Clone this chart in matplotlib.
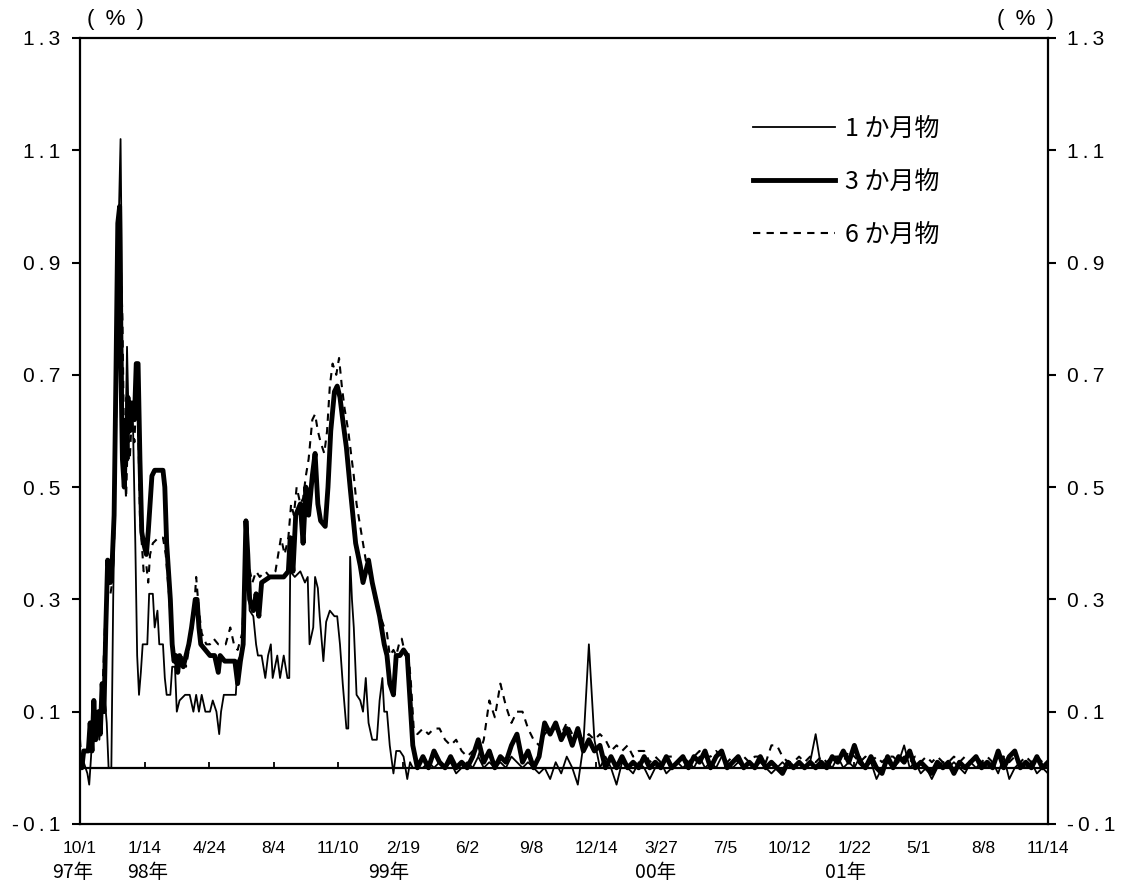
import numpy as np
import matplotlib
matplotlib.use("Agg")
import matplotlib.pyplot as plt

# ---------------- data (x = business-day index from 97/10/1) ----------------
tick_labels = ["10/1", "1/14", "4/24", "8/4", "11/10", "2/19", "6/2", "9/8",
               "12/14", "3/27", "7/5", "10/12", "1/22", "5/1", "8/8", "11/14"]
tick_step = 70
year_labels = ["97年", "98年", "99年", "00年", "01年"]
year_pos = [-8, 73, 335, 624, 830]
series_names = ["1 か月物", "3 か月物", "6 か月物"]

# 1-month, early period
m1_days = [0, 4, 8, 10, 12, 14, 16, 18, 21, 23, 25, 27, 29, 31, 34, 36, 39, 41, 44, 47,
           49, 51, 53, 55, 57, 60, 62, 64, 66, 68, 73, 75, 79, 81, 84, 86, 90, 92, 94, 98,
           100, 103, 105, 108, 114, 119, 123, 126, 129, 132, 136, 141, 144, 148, 151, 153, 156, 163, 169, 171,
           174, 177, 180, 182, 184, 188, 191, 193, 197, 201, 204, 207, 209, 214, 217, 221, 225, 227, 228, 233,
           239, 244, 247, 249, 253, 255, 258, 260, 264, 267, 271, 276, 279, 282, 285, 289, 291, 293, 295, 297,
           300, 304, 307, 310, 313, 317, 322, 325, 328, 330, 333, 336, 340, 343, 347, 351, 355, 358, 361]
m1_vals = [0.0, 0.01, -0.01, -0.03, 0.02, 0.10, 0.05, 0.09, 0.05, 0.10, 0.15, 0.12, 0.08, 0.0, 0.0, 0.30, 0.60, 0.90, 1.12, 0.60,
           0.55, 0.75, 0.60, 0.62, 0.65, 0.40, 0.20, 0.13, 0.17, 0.22, 0.22, 0.31, 0.31, 0.25, 0.28, 0.22, 0.22, 0.16, 0.13, 0.13,
           0.18, 0.18, 0.10, 0.12, 0.13, 0.13, 0.10, 0.13, 0.10, 0.13, 0.10, 0.10, 0.12, 0.10, 0.06, 0.10, 0.13, 0.13, 0.13, 0.19,
           0.20, 0.22, 0.42, 0.35, 0.28, 0.27, 0.22, 0.20, 0.20, 0.16, 0.20, 0.22, 0.16, 0.20, 0.16, 0.20, 0.16, 0.16, 0.35, 0.34,
           0.35, 0.33, 0.34, 0.22, 0.25, 0.34, 0.32, 0.27, 0.19, 0.26, 0.28, 0.27, 0.27, 0.22, 0.15, 0.07, 0.07, 0.376, 0.30, 0.25,
           0.13, 0.12, 0.10, 0.16, 0.08, 0.05, 0.05, 0.12, 0.16, 0.10, 0.10, 0.04, -0.01, 0.03, 0.03, 0.02, -0.02, 0.01, 0.0]

# 3-month, early period
m3_days = [0, 2, 4, 9, 11, 13, 15, 17, 20, 22, 24, 26, 28, 30, 33, 35, 37, 39, 41, 43,
           44, 46, 48, 50, 51, 52, 54, 56, 59, 61, 63, 65, 67, 69, 72, 74, 76, 78, 81, 90,
           92, 94, 98, 100, 102, 104, 106, 108, 112, 115, 118, 121, 125, 127, 129, 131, 136, 141, 146, 150,
           152, 157, 163, 168, 171, 174, 177, 180, 182, 184, 188, 191, 194, 197, 206, 217, 221, 226, 228, 231,
           234, 239, 242, 245, 248, 252, 255, 258, 261, 266, 269, 272, 276, 279, 282, 285, 289, 293, 296, 299,
           304, 307, 310, 313, 317, 321, 325, 330, 333, 336, 340, 343, 347, 351, 355, 358, 361]
m3_vals = [0.02, 0.0, 0.03, 0.03, 0.08, 0.03, 0.12, 0.05, 0.10, 0.06, 0.15, 0.10, 0.25, 0.37, 0.33, 0.37, 0.45, 0.70, 0.97, 1.00,
           0.75, 0.55, 0.50, 0.62, 0.55, 0.66, 0.60, 0.65, 0.62, 0.72, 0.72, 0.55, 0.42, 0.40, 0.38, 0.42, 0.47, 0.52, 0.53, 0.53,
           0.50, 0.40, 0.30, 0.22, 0.19, 0.20, 0.17, 0.20, 0.18, 0.20, 0.22, 0.25, 0.30, 0.30, 0.25, 0.22, 0.21, 0.20, 0.20, 0.17,
           0.20, 0.19, 0.19, 0.19, 0.15, 0.19, 0.22, 0.44, 0.38, 0.30, 0.28, 0.31, 0.27, 0.33, 0.34, 0.34, 0.34, 0.35, 0.41, 0.35,
           0.45, 0.47, 0.40, 0.50, 0.45, 0.52, 0.56, 0.47, 0.44, 0.43, 0.50, 0.60, 0.67, 0.68, 0.66, 0.62, 0.57, 0.50, 0.45, 0.40,
           0.36, 0.33, 0.35, 0.37, 0.33, 0.30, 0.27, 0.22, 0.20, 0.15, 0.13, 0.20, 0.20, 0.21, 0.20, 0.12, 0.04]

# 6-month, early period
m6_days = [0, 2, 5, 11, 14, 17, 21, 24, 27, 30, 33, 35, 37, 39, 41, 43, 46, 48, 50, 52,
           54, 56, 59, 61, 63, 65, 67, 69, 72, 74, 76, 79, 85, 90, 93, 97, 100, 103, 106, 111,
           115, 119, 123, 126, 129, 132, 137, 141, 145, 150, 154, 158, 163, 167, 171, 176, 180, 183, 187, 191,
           195, 201, 206, 212, 215, 218, 222, 226, 229, 232, 235, 239, 242, 245, 248, 252, 255, 258, 261, 265,
           268, 271, 274, 278, 281, 284, 287, 291, 294, 297, 300, 304, 307, 310, 313, 317, 320, 323, 326, 330,
           333, 336, 340, 343, 346, 349, 353, 356, 359, 362]
m6_vals = [0.05, 0.0, 0.03, 0.03, 0.07, 0.05, 0.09, 0.12, 0.25, 0.32, 0.31, 0.33, 0.40, 0.60, 0.85, 0.97, 0.80, 0.55, 0.48, 0.60,
           0.55, 0.62, 0.58, 0.66, 0.62, 0.45, 0.40, 0.35, 0.36, 0.33, 0.38, 0.40, 0.41, 0.41, 0.38, 0.30, 0.22, 0.20, 0.18, 0.20,
           0.18, 0.22, 0.26, 0.34, 0.28, 0.24, 0.22, 0.22, 0.23, 0.22, 0.22, 0.22, 0.25, 0.22, 0.21, 0.24, 0.40, 0.36, 0.33, 0.35,
           0.34, 0.35, 0.34, 0.35, 0.38, 0.41, 0.38, 0.41, 0.47, 0.45, 0.50, 0.47, 0.48, 0.52, 0.55, 0.62, 0.63, 0.60, 0.58, 0.56,
           0.60, 0.68, 0.72, 0.70, 0.73, 0.68, 0.64, 0.60, 0.56, 0.52, 0.47, 0.43, 0.40, 0.37, 0.35, 0.33, 0.30, 0.29, 0.27, 0.25,
           0.24, 0.20, 0.21, 0.20, 0.22, 0.23, 0.20, 0.21, 0.15, 0.07]

# later period, sampled every 6 business days from day 366
tail_start = 366
tail_step = 6
m1_tail = [0.0, 0.0, 0.01, 0.0, 0.01, 0.0, 0.01, -0.01, 0.0, 0.01,
           0.0, 0.02, 0.0, 0.01, 0.0, 0.01, 0.0, 0.02, 0.01, 0.0,
           0.01, 0.0, -0.01, 0.0, -0.02, 0.01, -0.01, 0.02, 0.0, -0.03,
           0.04, 0.22, 0.05, 0.0, 0.02, 0.0, -0.03, 0.01, 0.0, -0.01,
           0.01, 0.0, -0.02,
           0.0, 0.01, -0.01, 0.0, 0.01, 0.0, 0.01, 0.0, 0.02, 0.0,
           0.01, 0.0, 0.02, 0.01, 0.0, 0.01, 0.0, 0.01, 0.0, 0.01,
           0.0, -0.01, 0.0, 0.01, 0.0, 0.0, 0.01, 0.0, 0.01, 0.06,
           0.0, 0.01, 0.0, 0.02, 0.0, 0.01, 0.0, 0.02, 0.0, 0.01,
           -0.02, 0.0, 0.01, 0.0, 0.01, 0.04, 0.0, 0.01, -0.01, 0.0,
           -0.02, 0.0, 0.01, 0.0, 0.01, 0.0, -0.01, 0.01, 0.0, 0.01,
           0.0, 0.01, -0.01, 0.02, -0.02, 0.0, 0.01, 0.0, 0.01, -0.01,
           0.0, -0.01]
m3_tail = [0.0, 0.02, 0.0, 0.03, 0.01, 0.0, 0.02, 0.0, 0.01, 0.0,
           0.02, 0.05, 0.01, 0.03, 0.0, 0.02, 0.01, 0.04, 0.06, 0.01,
           0.03, 0.0, 0.02, 0.08, 0.06, 0.08, 0.05, 0.07, 0.04, 0.07,
           0.03, 0.05, 0.03, 0.04, 0.0, 0.02, 0.0, 0.02, 0.0, 0.01,
           0.0, 0.02, 0.0,
           0.01, 0.0, 0.02, 0.0, 0.01, 0.02, 0.0, 0.02, 0.01, 0.03,
           0.0, 0.02, 0.03, 0.0, 0.01, 0.02, 0.0, 0.01, 0.0, 0.02,
           0.0, 0.01, 0.0, -0.01, 0.01, 0.0, 0.01, 0.0, 0.01, 0.0,
           0.01, 0.0, 0.02, 0.01, 0.03, 0.01, 0.04, 0.01, 0.0, 0.02,
           0.0, -0.01, 0.02, 0.0, 0.02, 0.01, 0.03, 0.0, 0.01, 0.0,
           -0.01, 0.01, 0.0, 0.01, -0.01, 0.01, 0.0, 0.01, 0.02, 0.0,
           0.01, 0.0, 0.03, 0.0, 0.02, 0.03, 0.0, 0.01, 0.0, 0.02,
           0.0, 0.01]
m6_tail = [0.06, 0.07, 0.06, 0.07, 0.07, 0.05, 0.04, 0.05, 0.03, 0.02,
           0.03, 0.02, 0.05, 0.12, 0.09, 0.15, 0.11, 0.08, 0.10, 0.10,
           0.07, 0.05, 0.04, 0.06, 0.07, 0.07, 0.06, 0.08, 0.06, 0.06,
           0.05, 0.06, 0.05, 0.06, 0.05, 0.03, 0.04, 0.03, 0.04, 0.02,
           0.03, 0.03, 0.01,
           0.02, 0.01, 0.02, 0.02, 0.01, 0.02, 0.01, 0.02, 0.03, 0.02,
           0.02, 0.03, 0.02, 0.01, 0.02, 0.01, 0.02, 0.01, 0.02, 0.02,
           0.01, 0.04, 0.04, 0.02, 0.01, 0.01, 0.02, 0.01, 0.02, 0.01,
           0.02, 0.01, 0.02, 0.02, 0.01, 0.03, 0.02, 0.01, 0.02, 0.01,
           0.02, 0.01, 0.02, 0.02, 0.01, 0.02, 0.01, 0.02, 0.01, 0.02,
           0.01, 0.02, 0.01, 0.01, 0.02, 0.01, 0.02, 0.01, 0.02, 0.01,
           0.02, 0.01, 0.02, 0.02, 0.01, 0.02, 0.01, 0.02, 0.01, 0.02,
           0.01, 0.01]


def full_series(days, vals, tail):
    tail_days = tail_start + tail_step * np.arange(len(tail))
    return (np.concatenate([np.asarray(days, float), tail_days]),
            np.concatenate([np.asarray(vals, float), np.asarray(tail, float)]))


x1, y1 = full_series(m1_days, m1_vals, m1_tail)
x3, y3 = full_series(m3_days, m3_vals, m3_tail)
x6, y6 = full_series(m6_days, m6_vals, m6_tail)

# ---------------- figure ----------------
CJK = ["Noto Sans CJK JP", "DejaVu Sans"]
LAT = ["Liberation Sans", "DejaVu Sans"]
THIN = "\u2009"

fig = plt.figure(figsize=(11.3, 8.96), dpi=100)
ax = fig.add_axes([0.0708, 0.0804, 0.8566, 0.8772])

x_max = tick_step * (len(tick_labels) - 1)
ax.set_xlim(0, x_max)
ax.set_ylim(-0.1, 1.3)

ax.plot(x3, y3, color="black", lw=3.5, solid_joinstyle="round", label=series_names[1], zorder=3)
ax.plot(x6, y6, color="black", lw=1.5, linestyle=(0, (3.5, 3)), label=series_names[2], zorder=4)
ax.plot(x1, y1, color="black", lw=1.3, label=series_names[0], zorder=5)

# zero line with small tick marks
ticks = np.arange(0, x_max + 1, tick_step)
ax.axhline(0, color="black", lw=1.6, zorder=2)
ax.vlines(ticks[1:-1], 0, 0.01, color="black", lw=1.3, zorder=2)

for s in ax.spines.values():
    s.set_linewidth(1.6)

yt = np.round(np.arange(-0.1, 1.31, 0.2), 1)
ax.set_yticks(yt)
ax.set_yticklabels([THIN.join(f"{v:.1f}") for v in yt], fontfamily=LAT)
ax.tick_params(axis="y", direction="out", length=6, width=1.5, labelsize=15,
               right=True, labelright=True, pad=8)

ax.set_xticks(ticks)
ax.set_xticklabels(tick_labels, fontfamily=LAT)
ax.tick_params(axis="x", length=0, pad=12, labelsize=12.5)

trans = ax.get_xaxis_transform()
for lab, pos in zip(year_labels, year_pos):
    ax.text(pos, -0.062, lab, transform=trans, ha="center", va="center",
            fontsize=14, family=CJK)

pct = "(\u2002%\u2002)"
ax.text(0.037, 1.023, pct, transform=ax.transAxes, ha="center", va="center",
        fontsize=16, family=LAT)
ax.text(0.977, 1.023, pct, transform=ax.transAxes, ha="center", va="center",
        fontsize=16, family=LAT)

h, l = ax.get_legend_handles_labels()
order = [l.index(n) for n in series_names]
leg = ax.legend([h[i] for i in order], [l[i] for i in order],
                loc="upper left", bbox_to_anchor=(0.695, 0.9008), frameon=False,
                borderpad=0, borderaxespad=0, handlelength=3.3, handletextpad=0.4,
                labelspacing=1.08, prop={"family": CJK, "size": 18})

fig.savefig("out.png", dpi=100)
